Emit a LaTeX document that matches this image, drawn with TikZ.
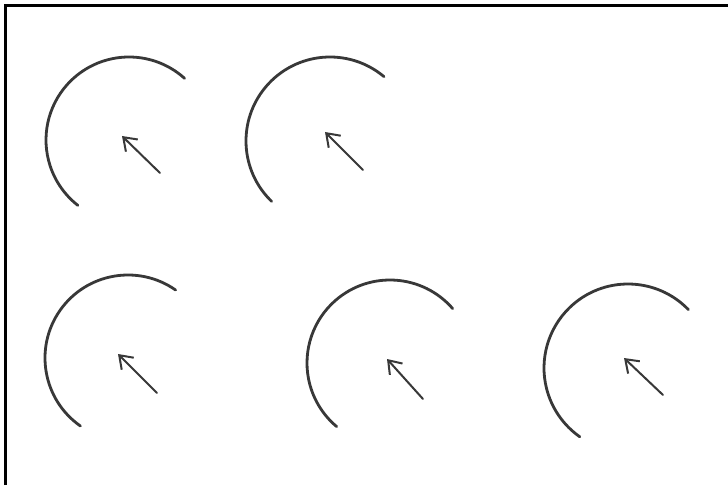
\documentclass[tikz,border=0pt]{standalone}
\usetikzlibrary{arrows.meta}
\definecolor{ink}{HTML}{383838}
\tikzset{
  arcline/.style={draw=ink, line width=2.8pt, line cap=round},
  pointer/.style={draw=ink, line width=2pt, line cap=round,
    -{Straight Barb[length=12pt,width=17pt,line width=2pt]}},
  frameline/.style={draw=black, line width=3.5pt}
}
\begin{document}
\begin{tikzpicture}[x=1pt,y=1pt]
\useasboundingbox (0,0) rectangle (728,485);
\fill[white] (0,0) rectangle (728,485);
% frame (top and left)
\coordinate (fbl) at (5.5,0);
\coordinate (ftl) at (5.5,479.5);
\coordinate (ftr) at (728,479.5);
\draw[frameline] (fbl) -- (ftl) -- (ftr);
% arcs
\draw[arcline] (129,345) ++(48:83) arc[start angle=48, end angle=232, radius=83];
\draw[arcline] (330,344) ++(50:84) arc[start angle=50, end angle=226, radius=84];
\draw[arcline] (128,127) ++(55:83) arc[start angle=55, end angle=235, radius=83];
\draw[arcline] (390,122) ++(41:83) arc[start angle=41, end angle=230, radius=83];
\draw[arcline] (628,117) ++(44:84) arc[start angle=44, end angle=235, radius=84];
% arrows
\coordinate (t1) at (160,312); \coordinate (h1) at (122,349);
\coordinate (t2) at (363,315); \coordinate (h2) at (325,353);
\coordinate (t3) at (157,92);  \coordinate (h3) at (118,131);
\coordinate (t4) at (423,86);  \coordinate (h4) at (387,126);
\coordinate (t5) at (663,90);  \coordinate (h5) at (624,127);
\draw[pointer] (t1) -- (h1);
\draw[pointer] (t2) -- (h2);
\draw[pointer] (t3) -- (h3);
\draw[pointer] (t4) -- (h4);
\draw[pointer] (t5) -- (h5);
\end{tikzpicture}
\end{document}
